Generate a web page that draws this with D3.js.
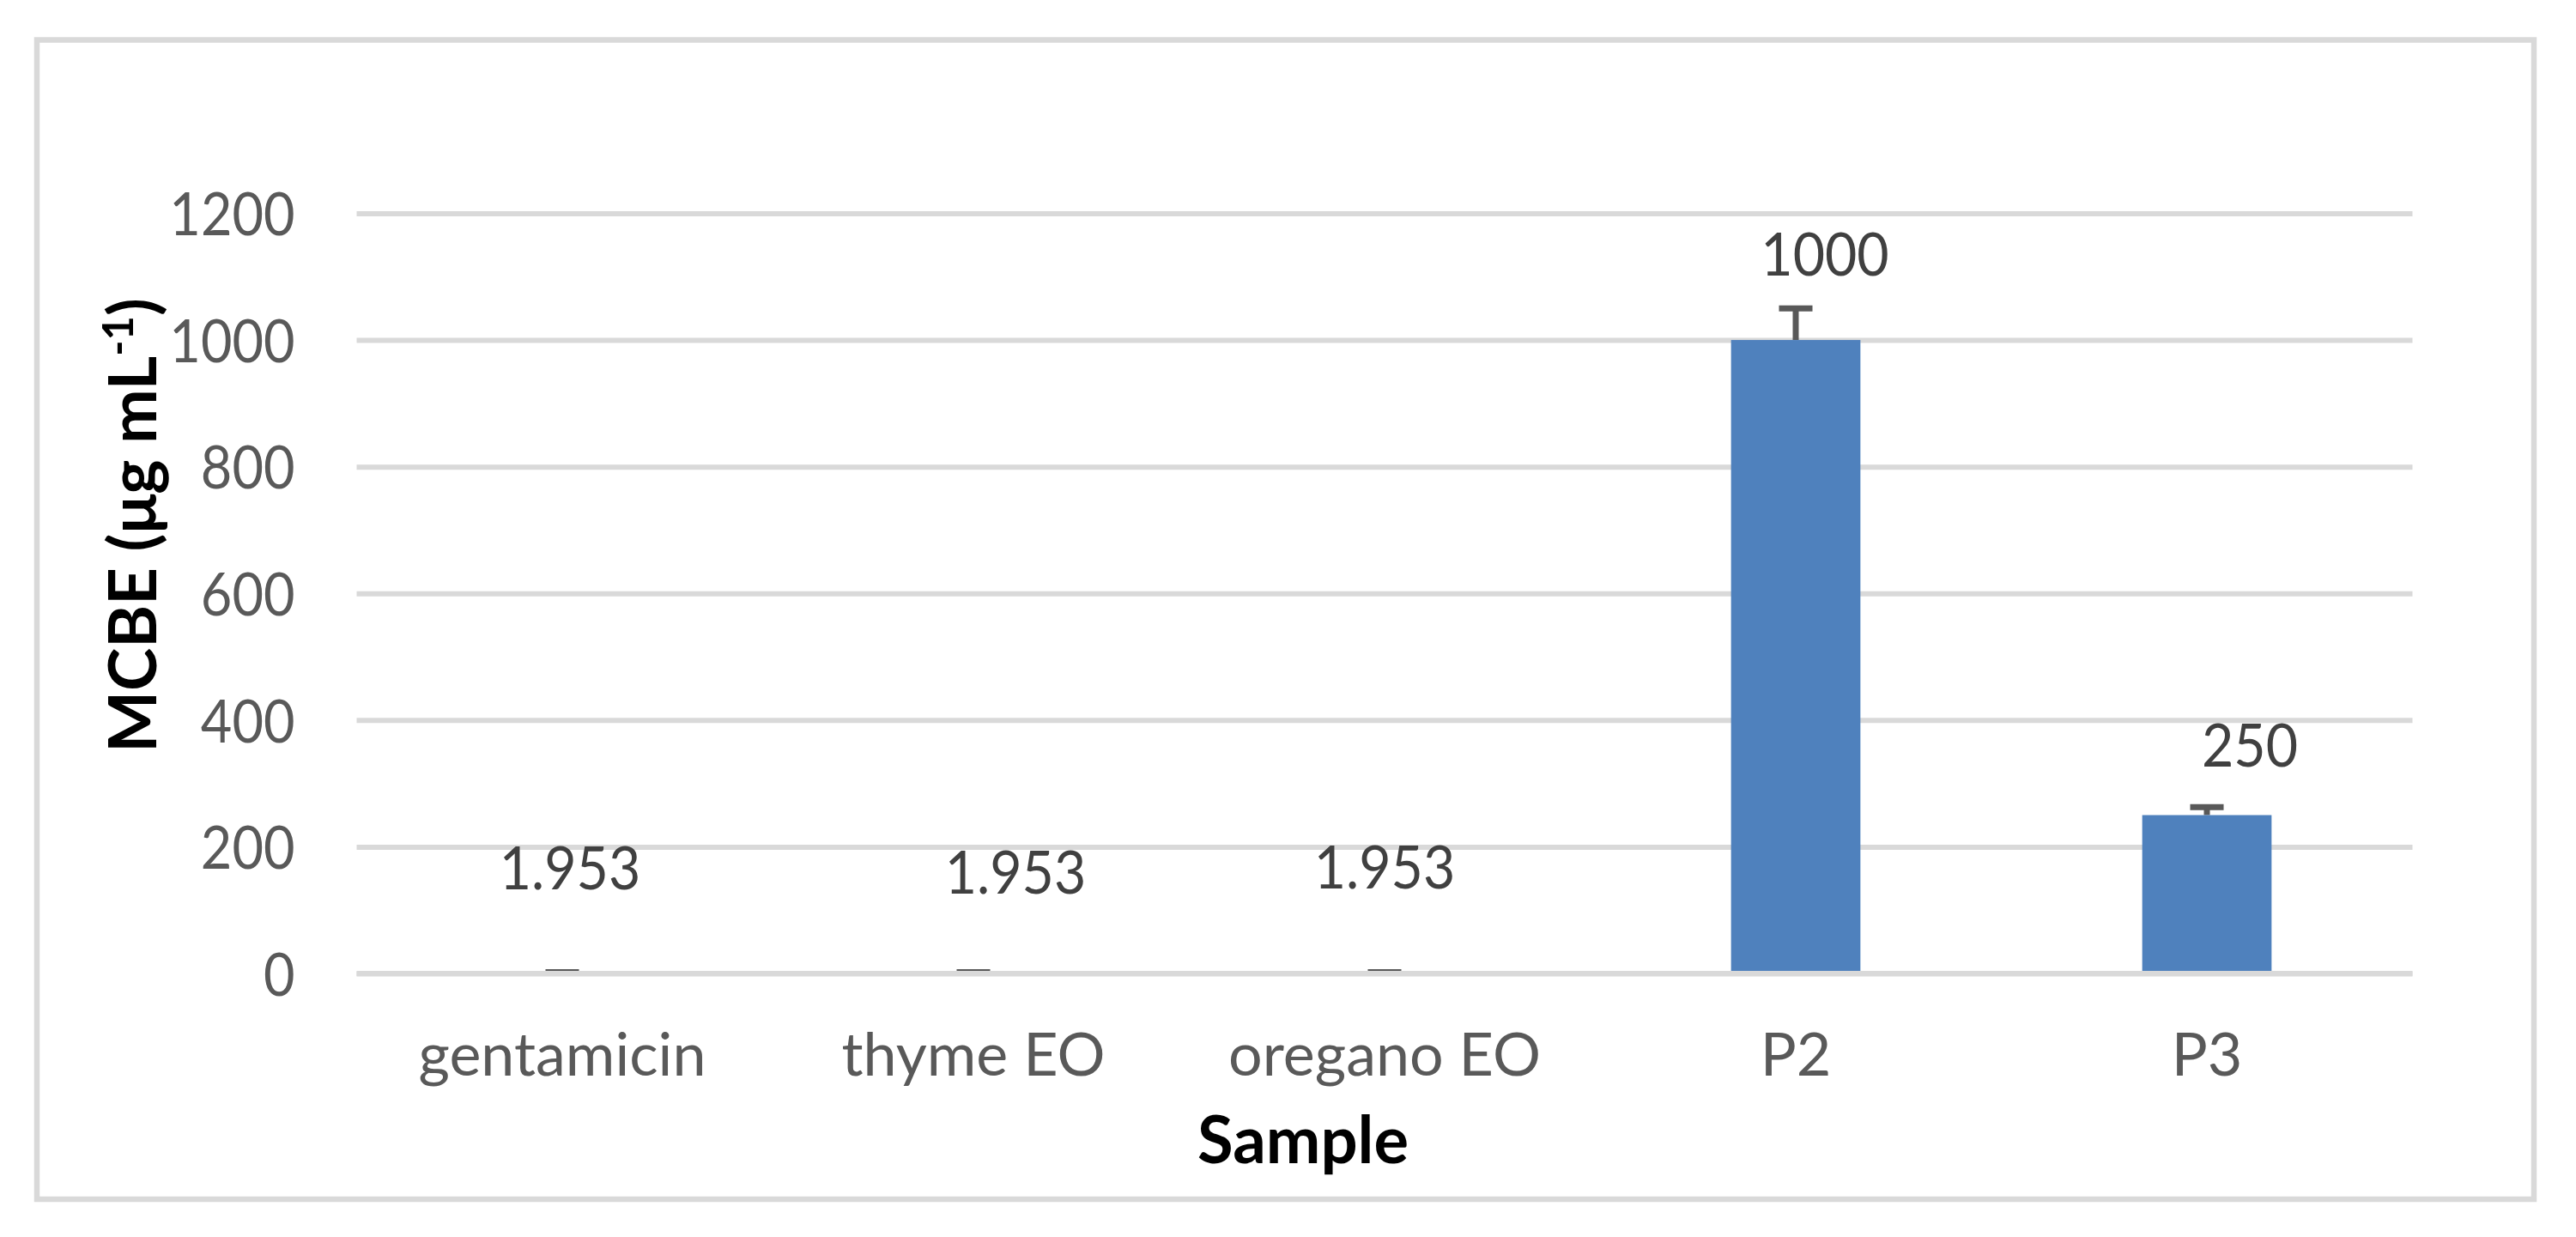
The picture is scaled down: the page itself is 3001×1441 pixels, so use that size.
<!DOCTYPE html>
<html>
<head>
<meta charset="utf-8">
<script src="https://cdn.jsdelivr.net/npm/d3@7"></script>
<style>
  html, body { margin: 0; padding: 0; background: #ffffff; }
  svg { display: block; }
  text { font-family: Lato, "Open Sans", sans-serif; }
</style>
</head>
<body>
<svg id="chart" width="3001" height="1441"></svg>
<script>
// ---- data ----
const categories = ["gentamicin", "thyme EO", "oregano EO", "P2", "P3"];
const values = [1.953, 1.953, 1.953, 1000, 250];
const errors = [0.1, 0.1, 0.1, 50, 12.5];
const valueLabels = ["1.953", "1.953", "1.953", "1000", "250"];
const yTicks = [0, 200, 400, 600, 800, 1000, 1200];
const xTitle = "Sample";
const yTitle = "MCBE (μg mL";
const yTitleSup = "-1";

// ---- layout (label offsets from the bar top, as placed in the original) ----
const labelOffsets = [[9, -97], [49, -92], [0, -98], [34, -75], [50, -57]];

const svg = d3.select("#chart");
const W = 3001, H = 1441;

svg.append("rect").attr("x", 0).attr("y", 0).attr("width", W).attr("height", H).attr("fill", "#ffffff");

// outer chart border
svg.append("rect")
  .attr("x", 43).attr("y", 46.5)
  .attr("width", 2952 - 43).attr("height", 1397 - 46.5)
  .attr("fill", "none").attr("stroke", "#d9d9d9").attr("stroke-width", 6.5);

const x = d3.scaleBand()
  .domain(categories)
  .range([415.5, 2810.5])
  .paddingInner(0.6854)
  .paddingOuter(0.6854 / 2);

const y = d3.scaleLinear().domain([0, 1200]).range([1134, 248.5]);

// narrow numeric text a little (Calibri-like figure widths)
function condense(sel, k) {
  sel.each(function () {
    const len = this.getComputedTextLength();
    d3.select(this).attr("textLength", len * k).attr("lengthAdjust", "spacingAndGlyphs");
  });
}

// gridlines
const yAxis = d3.axisLeft(y).tickValues(yTicks).tickSize(-(2810.5 - 415.5)).tickPadding(72).tickFormat(d3.format("d"));
const gy = svg.append("g").attr("transform", "translate(415.5,0)").call(yAxis);
gy.select(".domain").remove();
gy.selectAll(".tick line").attr("stroke", "#d9d9d9").attr("stroke-width", 6);
gy.selectAll(".tick text")
  .attr("fill", "#595959")
  .style("font-size", "70px")
  .attr("dy", "0.36em")
  .call(condense, 0.9);

// error bars (drawn under bars)
const err = svg.append("g");
categories.forEach((c, i) => {
  const cx = x(c) + x.bandwidth() / 2;
  err.append("line")
    .attr("x1", cx).attr("x2", cx)
    .attr("y1", y(values[i])).attr("y2", y(values[i] + errors[i]))
    .attr("stroke", "#595959").attr("stroke-width", 7);
  err.append("line")
    .attr("x1", cx - 19.5).attr("x2", cx + 19.5)
    .attr("y1", y(values[i] + errors[i])).attr("y2", y(values[i] + errors[i]))
    .attr("stroke", "#595959").attr("stroke-width", 7);
});

// bars
svg.append("g").selectAll("rect")
  .data(values)
  .join("rect")
  .attr("x", (d, i) => x(categories[i]))
  .attr("width", x.bandwidth())
  .attr("y", d => y(d))
  .attr("height", d => y(0) - y(d))
  .attr("fill", "#4f81bd");

// horizontal axis line on top
const xAxis = d3.axisBottom(x).tickSize(0).tickPadding(0);
const gx = svg.append("g").attr("transform", `translate(0,${y(0)})`).call(xAxis);
gx.select(".domain").attr("stroke", "#d9d9d9").attr("stroke-width", 6).attr("d", `M415.5,0H2810.5`);
gx.selectAll(".tick text")
  .attr("fill", "#595959")
  .style("font-size", "70px")
  .attr("dy", null)
  .attr("y", 1253 - y(0));

// value labels
svg.append("g").selectAll("text")
  .data(values)
  .join("text")
  .attr("x", (d, i) => x(categories[i]) + x.bandwidth() / 2 + labelOffsets[i][0])
  .attr("y", (d, i) => y(d) + labelOffsets[i][1])
  .attr("text-anchor", "middle")
  .attr("fill", "#404040")
  .style("font-size", "70px")
  .text((d, i) => valueLabels[i])
  .call(condense, 0.92);

// axis titles
svg.append("text")
  .attr("x", 1518).attr("y", 1355)
  .attr("text-anchor", "middle")
  .attr("fill", "#000000")
  .style("font-size", "76px").style("font-weight", "700")
  .text(xTitle);

const yt = svg.append("text")
  .attr("transform", "translate(182,612) rotate(-90)")
  .attr("text-anchor", "middle")
  .attr("fill", "#000000")
  .style("font-size", "76px").style("font-weight", "700");
yt.append("tspan").text(yTitle);
yt.append("tspan").attr("dy", -27).style("font-size", "49px").text(yTitleSup);
yt.append("tspan").attr("dy", 27).text(")");
</script>
</body>
</html>
